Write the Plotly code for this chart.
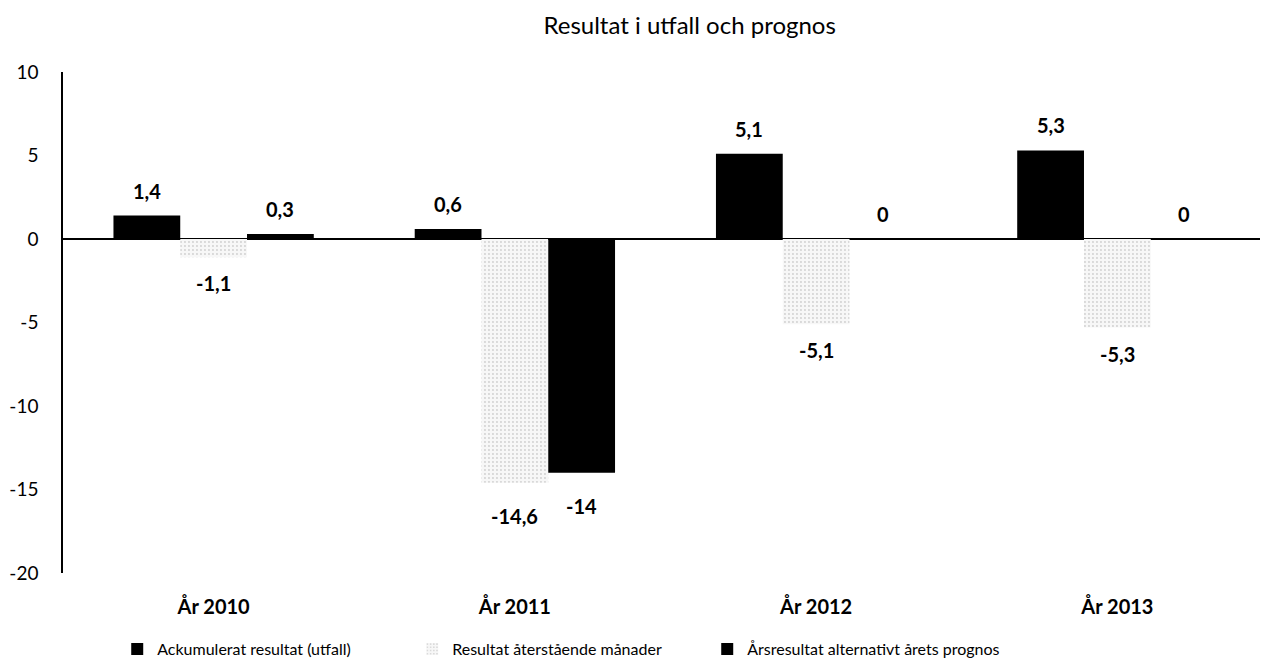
import plotly.graph_objects as go

categories = ["År 2010", "År 2011", "År 2012", "År 2013"]
ackumulerat = [1.4, 0.6, 5.1, 5.3]
aterstaende = [-1.1, -14.6, -5.1, -5.3]
arsresultat = [0.3, -14.0, 0.0, 0.0]
series_names = ["Ackumulerat resultat (utfall)", "Resultat återstående månader",
                "Årsresultat alternativt årets prognos"]
y_ticks = [10, 5, 0, -5, -10, -15, -20]

FONT = "Lato"
bargap = 0.335
n_series = 3

def fmt(v):
    s = f"{v:g}"
    return s.replace(".", ",")

fig = go.Figure()
fig.add_trace(go.Bar(x=categories, y=ackumulerat, name=series_names[0],
                     marker=dict(color="black", line=dict(width=0))))
fig.add_trace(go.Bar(x=categories, y=aterstaende, name=series_names[1],
                     marker=dict(color="white", line=dict(width=0),
                                 pattern=dict(shape=".", fgcolor="#a8a8a8", bgcolor="#f7f7f7",
                                              size=4, solidity=0.18))))
fig.add_trace(go.Bar(x=categories, y=arsresultat, name=series_names[2],
                     marker=dict(color="black", line=dict(width=0))))

w = (1 - bargap) / n_series
annotations = []
for k, vals in enumerate([ackumulerat, aterstaende, arsresultat]):
    for i, v in enumerate(vals):
        if v >= 0:
            shift = 25
        else:
            shift = -26 if abs(v) < 10 else -33
        annotations.append(dict(
            x=i + (k - 1) * w, y=v, xref="x", yref="y", text=f"<b>{fmt(v)}</b>",
            showarrow=False, yshift=shift,
            font=dict(family=FONT, size=20, color="black")))

fig.update_layout(
    width=1260, height=658,
    paper_bgcolor="white", plot_bgcolor="white",
    barmode="group", bargap=bargap, bargroupgap=0,
    margin=dict(l=55, r=0, t=64, b=91),
    title=dict(text="Resultat i utfall och prognos", x=0.541, xanchor="center",
               y=0.974, yanchor="middle",
               font=dict(family=FONT, size=24, color="black")),
    font=dict(family=FONT, size=18, color="black"),
    annotations=annotations,
    showlegend=True,
    legend=dict(orientation="h", x=0.045, xanchor="left", y=-0.118, yanchor="top",
                font=dict(family=FONT, size=16, color="black"), itemwidth=30,
                entrywidth=250, entrywidthmode="pixels",
                traceorder="normal"),
    xaxis=dict(type="category", categoryarray=categories, showgrid=False, showline=False,
               ticks="", tickfont=dict(family=FONT, size=20, color="black", weight="bold"),
               ticklabelstandoff=20),
    yaxis=dict(range=[-20, 10], tickvals=y_ticks, ticktext=[str(t) for t in y_ticks],
               showgrid=False, showline=True, linecolor="black", linewidth=1.5,
               zeroline=True, zerolinecolor="black", zerolinewidth=1.5,
               ticks="", ticklabelstandoff=19,
               tickfont=dict(family=FONT, size=19, color="black")),
)

fig.write_html("out.html")
